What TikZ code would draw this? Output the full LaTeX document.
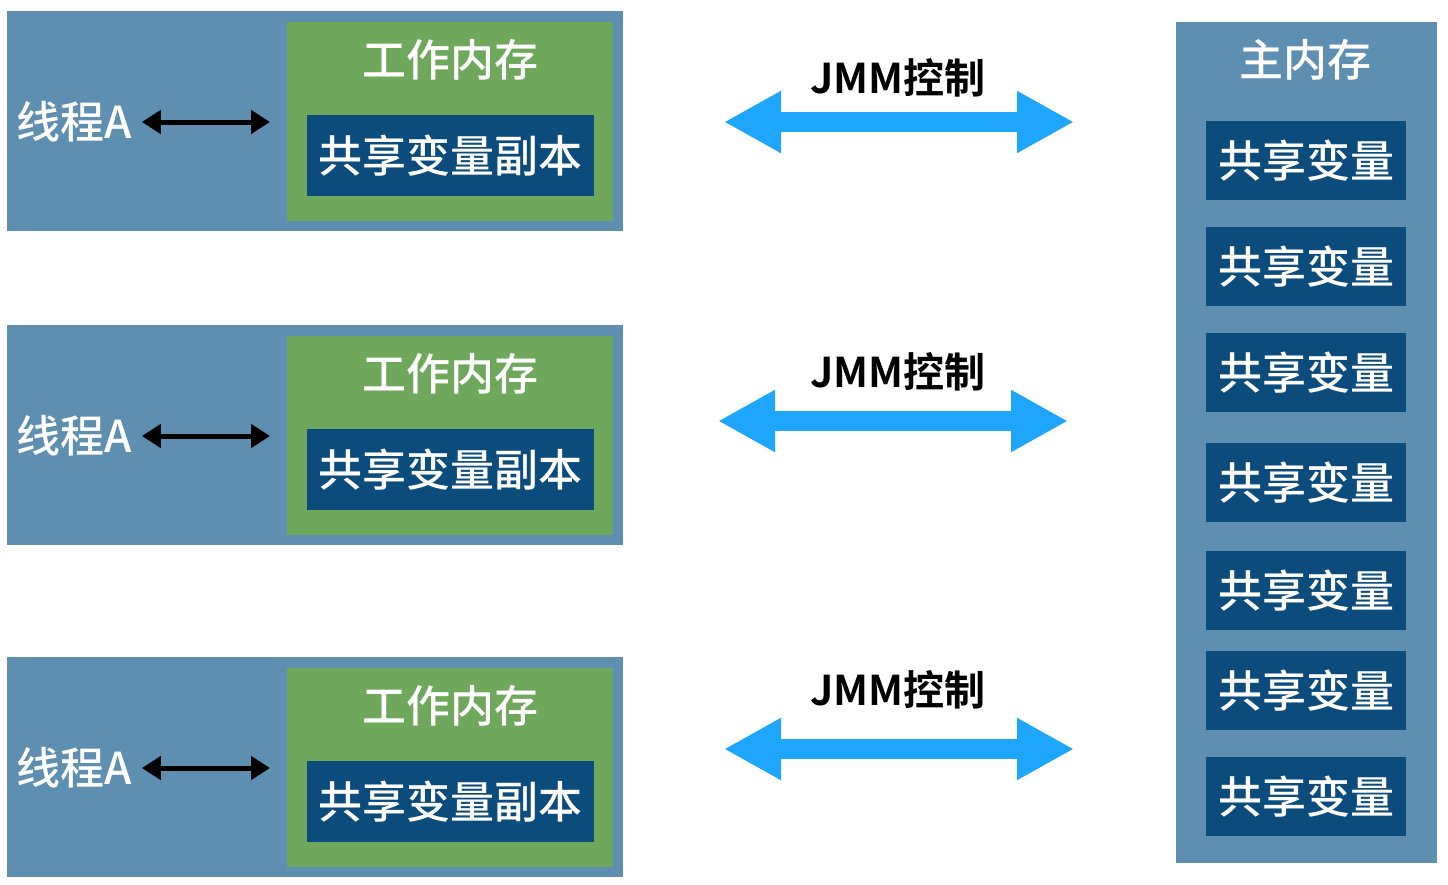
\documentclass[tikz,border=0pt]{standalone}
\usepackage{fontspec}
\setmainfont{Noto Sans CJK SC}[BoldFont={Noto Sans CJK SC Bold}]
\newfontfamily\cjkmed{Noto Sans CJK SC Medium}
\usetikzlibrary{arrows.meta}
\definecolor{outerblue}{RGB}{94,142,176}
\definecolor{wmgreen}{RGB}{111,168,92}
\definecolor{darkblue}{RGB}{11,76,124}
\definecolor{arrowblue}{RGB}{30,166,253}
\tikzset{
  panel/.style={inner sep=0pt, outer sep=0pt, anchor=north west},
  threadbox/.style={panel, fill=outerblue, minimum width=616pt, minimum height=220pt},
  wmbox/.style={panel, fill=wmgreen, minimum width=326pt, minimum height=199pt},
  copybox/.style={panel, fill=darkblue, minimum width=287pt, minimum height=81pt, text=white, font=\cjkmed\fontsize{44}{44}\selectfont},
  varbox/.style={panel, fill=darkblue, minimum width=200pt, minimum height=79pt, text=white, font=\cjkmed\fontsize{44}{44}\selectfont},
  whitetxt/.style={text=white, inner sep=0pt, font=\cjkmed\fontsize{44}{44}\selectfont},
  jmmtxt/.style={text=black, inner sep=0pt, font=\fontsize{41}{41}\selectfont\bfseries},
  blkarrow/.style={line width=5pt, {Triangle[length=19pt,width=23pt]}-{Triangle[length=19pt,width=23pt]}, shorten <=10pt, shorten >=17pt},
  bluearrow/.style={draw=arrowblue, line width=20pt, {Triangle[length=57pt,width=58pt]}-{Triangle[length=57pt,width=58pt]}, color=arrowblue}
}
\begin{document}
\begin{tikzpicture}[x=1pt,y=-1pt]
\useasboundingbox[fill=white] (0,0) rectangle (1448,884);

% main memory
\node[panel, fill=outerblue, minimum width=261pt, minimum height=841pt] (mm) at (1176,22) {};
\node[whitetxt] (mmt) at (1305,60) {主内存};
\node[varbox] (v1) at (1206,121) {共享变量};
\node[varbox] (v2) at (1206,227) {共享变量};
\node[varbox] (v3) at (1206,333) {共享变量};
\node[varbox] (v4) at (1206,443) {共享变量};
\node[varbox] (v5) at (1206,551) {共享变量};
\node[varbox] (v6) at (1206,651) {共享变量};
\node[varbox] (v7) at (1206,757) {共享变量};

% thread 1
\node[threadbox] (th1) at (7,11) {};
\node[wmbox] (wm1) at (287,22) {};
\node[whitetxt] (wt1) at (450,60) {工作内存};
\node[copybox] (c1) at (307,115) {共享变量副本};
\node[whitetxt] (tA1) at (74,122) {线程A};
\draw[blkarrow] (tA1.east) -- (tA1.east -| wm1.west);

% thread 2
\node[threadbox] (th2) at (7,325) {};
\node[wmbox] (wm2) at (287,336) {};
\node[whitetxt] (wt2) at (450,374) {工作内存};
\node[copybox] (c2) at (307,429) {共享变量副本};
\node[whitetxt] (tA2) at (74,436) {线程A};
\draw[blkarrow] (tA2.east) -- (tA2.east -| wm2.west);

% thread 3
\node[threadbox] (th3) at (7,657) {};
\node[wmbox] (wm3) at (287,668) {};
\node[whitetxt] (wt3) at (450,706) {工作内存};
\node[copybox] (c3) at (307,761) {共享变量副本};
\node[whitetxt] (tA3) at (74,768) {线程A};
\draw[blkarrow] (tA3.east) -- (tA3.east -| wm3.west);

% JMM arrows
\coordinate (a1l) at (724,122); \coordinate (a1r) at (1074,122);
\coordinate (a2l) at (718,421); \coordinate (a2r) at (1068,421);
\coordinate (a3l) at (724,749); \coordinate (a3r) at (1074,749);
\draw[bluearrow] (a1l) -- (a1r);
\draw[bluearrow] (a2l) -- (a2r);
\draw[bluearrow] (a3l) -- (a3r);
\node[jmmtxt] (j1) at (898,78) {JMM控制};
\node[jmmtxt] (j2) at (898,372) {JMM控制};
\node[jmmtxt] (j3) at (898,690) {JMM控制};
\end{tikzpicture}
\end{document}
